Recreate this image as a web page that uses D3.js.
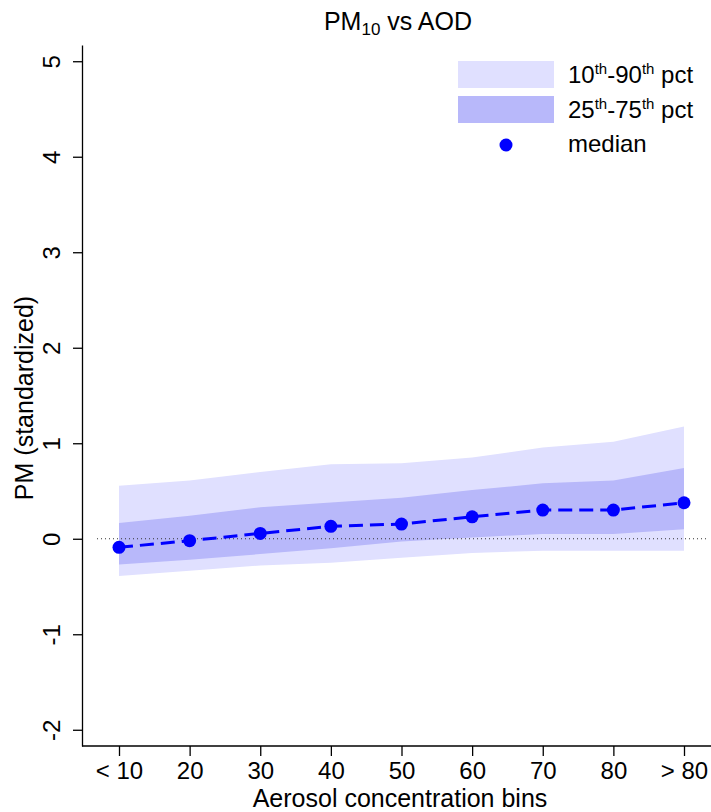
<!DOCTYPE html>
<html><head><meta charset="utf-8">
<script src="https://cdn.jsdelivr.net/npm/d3@7"></script>
<style>body{margin:0;background:#fff}text{font-family:"Liberation Sans",Arial,sans-serif}</style>
</head><body>
<svg id="c" width="711" height="812"></svg>
<script>
const categories = ["< 10","20","30","40","50","60","70","80","> 80"];
const p10 = [-0.39,-0.335,-0.28,-0.25,-0.2,-0.15,-0.125,-0.125,-0.125];
const p25 = [-0.27,-0.22,-0.16,-0.10,-0.03,0.014,0.05,0.05,0.10];
const median = [-0.09,-0.02,0.056,0.13,0.154,0.23,0.30,0.30,0.377];
const p75 = [0.164,0.24,0.33,0.38,0.43,0.51,0.58,0.61,0.74];
const p90 = [0.555,0.61,0.70,0.78,0.79,0.85,0.956,1.016,1.176];
const yTicks = [-2,-1,0,1,2,3,4,5];

const svg = d3.select("#c");
const x = d3.scaleLinear().domain([1,9]).range([119,684]);
const y = d3.scaleLinear().domain([-2.17,5.17]).range([746,45]);
const idx = d3.range(categories.length);

const area = (lo,hi)=>d3.area().x(i=>x(i+1)).y0(i=>y(lo[i])).y1(i=>y(hi[i]));
svg.append("path").datum(idx).attr("d",area(p10,p90)).attr("fill","#e0e0ff");
svg.append("path").datum(idx).attr("d",area(p25,p75)).attr("fill","#b8b8fa");

svg.append("line").attr("x1",97).attr("x2",706).attr("y1",y(0)).attr("y2",y(0))
  .attr("stroke","#333").attr("stroke-width",1).attr("stroke-dasharray","1,3");

svg.append("path").datum(idx)
  .attr("d",d3.line().x(i=>x(i+1)).y(i=>y(median[i])))
  .attr("fill","none").attr("stroke","#0000ff").attr("stroke-width",3).attr("stroke-dasharray","14,7");
svg.selectAll("circle.m").data(idx).join("circle").attr("class","m")
  .attr("cx",i=>x(i+1)).attr("cy",i=>y(median[i])).attr("r",6.5).attr("fill","#0000ff");

// y axis
const ya = svg.append("g").attr("transform","translate(82,0)")
  .call(d3.axisLeft(y).tickValues(yTicks).tickSize(9).tickSizeOuter(0).tickFormat(d=>d));
ya.select(".domain").attr("stroke","#000").attr("stroke-width",1.3);
ya.selectAll(".tick line").attr("stroke","#000").attr("stroke-width",1.3);
ya.selectAll(".tick text").attr("font-size",24).attr("fill","#000")
  .attr("text-anchor","middle").attr("x",0).attr("y",0).attr("dy",0)
  .attr("transform","translate(-22,0) rotate(-90)");

// x axis
const xa = svg.append("g").attr("transform","translate(0,746)")
  .call(d3.axisBottom(x).tickValues(d3.range(1,10)).tickSize(10).tickSizeOuter(0).tickFormat(d=>categories[d-1]));
xa.select(".domain").remove();
xa.append("line").attr("x1",82).attr("x2",711).attr("stroke","#000").attr("stroke-width",1.3);
xa.selectAll(".tick line").attr("stroke","#000").attr("stroke-width",1.3);
xa.selectAll(".tick text").attr("font-size",24).attr("fill","#000").attr("y",33).attr("dy",0);

// labels
const title = svg.append("text").attr("x",398).attr("y",30).attr("text-anchor","middle").attr("font-size",25);
title.append("tspan").text("PM");
title.append("tspan").attr("font-size",17).attr("dy",5).text("10");
title.append("tspan").attr("dy",-5).text(" vs AOD");

svg.append("text").attr("x",400).attr("y",807).attr("text-anchor","middle").attr("font-size",25).text("Aerosol concentration bins");
svg.append("text").attr("transform","translate(33,398) rotate(-90)").attr("text-anchor","middle").attr("font-size",25).text("PM (standardized)");

// legend
const lg = svg.append("g");
lg.append("rect").attr("x",458).attr("y",61).attr("width",96).attr("height",27).attr("fill","#e0e0ff");
lg.append("rect").attr("x",458).attr("y",96).attr("width",96).attr("height",27).attr("fill","#b8b8fa");
lg.append("circle").attr("cx",506).attr("cy",145).attr("r",6.5).attr("fill","#0000ff");
function supLabel(yy, a, b){
  const t = lg.append("text").attr("x",568).attr("y",yy).attr("font-size",24);
  t.append("tspan").text(a);
  t.append("tspan").attr("font-size",15).attr("dy",-9).text("th");
  t.append("tspan").attr("dy",9).text("-"+b);
  t.append("tspan").attr("font-size",15).attr("dy",-9).text("th");
  t.append("tspan").attr("dy",9).text(" pct");
}
supLabel(83,"10","90");
supLabel(118,"25","75");
lg.append("text").attr("x",568).attr("y",152).attr("font-size",24).text("median");
</script>
</body></html>
